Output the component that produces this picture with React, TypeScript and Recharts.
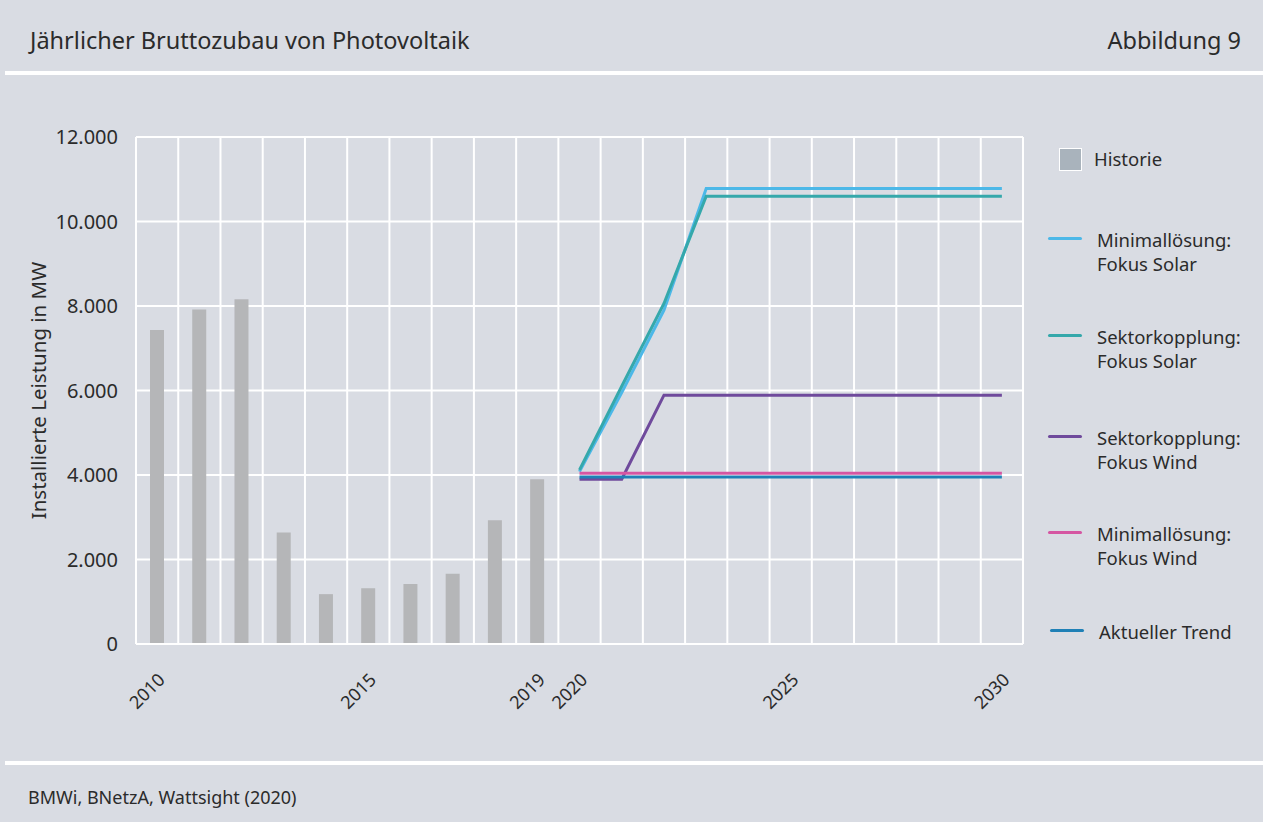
import React from 'react';
import { ComposedChart, Bar, Line, XAxis, YAxis, CartesianGrid } from 'recharts';

const years = [2010, 2011, 2012, 2013, 2014, 2015, 2016, 2017, 2018, 2019, 2020, 2021, 2022, 2023, 2024, 2025, 2026, 2027, 2028, 2029, 2030];
const historie = [7430, 7920, 8160, 2640, 1180, 1320, 1420, 1660, 2930, 3900, null, null, null, null, null, null, null, null, null, null, null];
const minSolar = [null, null, null, null, null, null, null, null, null, null, 4080, 5950, 7900, 10780, 10780, 10780, 10780, 10780, 10780, 10780, 10780];
const sekSolar = [null, null, null, null, null, null, null, null, null, null, 4120, 6100, 8060, 10600, 10600, 10600, 10600, 10600, 10600, 10600, 10600];
const sekWind = [null, null, null, null, null, null, null, null, null, null, 3900, 3900, 5890, 5890, 5890, 5890, 5890, 5890, 5890, 5890, 5890];
const minWind = [null, null, null, null, null, null, null, null, null, null, 4040, 4040, 4040, 4040, 4040, 4040, 4040, 4040, 4040, 4040, 4040];
const trend = [null, null, null, null, null, null, null, null, null, null, 3950, 3950, 3950, 3950, 3950, 3950, 3950, 3950, 3950, 3950, 3950];

const yTicks = [0, 2000, 4000, 6000, 8000, 10000, 12000];
const labeledYears = [2010, 2015, 2019, 2020, 2025, 2030];

const data = years.map((y, i) => ({
  year: y,
  historie: historie[i],
  minSolar: minSolar[i],
  sekSolar: sekSolar[i],
  sekWind: sekWind[i],
  minWind: minWind[i],
  trend: trend[i],
}));

const BG = '#d9dce3';
const TEXT = '#2b2b2b';
const FONT = '"Noto Sans", sans-serif';

const lineSeries = [
  { key: 'minSolar', label: ['Minimallösung:', 'Fokus Solar'], color: '#4cb8e8' },
  { key: 'sekSolar', label: ['Sektorkopplung:', 'Fokus Solar'], color: '#35a8ab' },
  { key: 'sekWind', label: ['Sektorkopplung:', 'Fokus Wind'], color: '#6f4a9c' },
  { key: 'minWind', label: ['Minimallösung:', 'Fokus Wind'], color: '#d556a2' },
  { key: 'trend', label: ['Aktueller Trend'], color: '#1f80b6' },
];

const legendY = [238, 335, 436, 532, 630];
const legendDx = [0, 0, 0, 0, 2];

const fmt = (v: number) => v.toLocaleString('de-DE');

const XTick = (props: any) => {
  const { x, y, payload } = props;
  if (!labeledYears.includes(payload.value)) return null;
  return (
    <text
      transform={`translate(${x + 9},${y + 37}) rotate(-45)`}
      textAnchor="end"
      fill={TEXT}
      fontSize={18}
      fontFamily={FONT}
    >
      {payload.value}
    </text>
  );
};

const YLabel = (props: any) => {
  const vb = props.viewBox || {};
  const cy = vb.y + vb.height / 2;
  return (
    <text
      transform={`translate(38,${cy}) rotate(-90)`}
      textAnchor="middle"
      dominantBaseline="central"
      fill={TEXT}
      fontSize={20.5}
      fontFamily={FONT}
    >
      Installierte Leistung in MW
    </text>
  );
};

export default function App() {
  return (
    <div style={{ position: 'absolute', left: 0, top: 0, width: 1263, height: 822, background: BG, fontFamily: FONT, color: TEXT, overflow: 'hidden' }}>
      <div style={{ position: 'absolute', left: 5, top: 71, width: 1258, height: 4, background: '#ffffff' }} />
      <div style={{ position: 'absolute', left: 5, top: 761, width: 1258, height: 4, background: '#ffffff' }} />
      <div style={{ position: 'absolute', left: 30, top: 25, fontSize: 23.5, lineHeight: '30px', whiteSpace: 'nowrap' }}>
        Jährlicher Bruttozubau von Photovoltaik
      </div>
      <div style={{ position: 'absolute', right: 22, top: 25, fontSize: 23.5, lineHeight: '30px', whiteSpace: 'nowrap' }}>
        Abbildung 9
      </div>
      <div style={{ position: 'absolute', left: 28, top: 784, fontSize: 18, lineHeight: '26px', whiteSpace: 'nowrap' }}>
        BMWi, BNetzA, Wattsight (2020)
      </div>

      <div style={{ position: 'absolute', left: 0, top: 0 }}>
        <ComposedChart
          width={1263}
          height={822}
          data={data}
          margin={{ top: 137, right: 240, bottom: 148, left: 56 }}
          barCategoryGap={0}
        >
          <CartesianGrid
            stroke="#ffffff"
            strokeWidth={2}
            verticalCoordinatesGenerator={({ offset }: any) =>
              Array.from({ length: years.length + 1 }, (_, i) => offset.left + (i * offset.width) / years.length)
            }
          />
          <XAxis
            dataKey="year"
            interval={0}
            height={30}
            axisLine={{ stroke: '#ffffff', strokeWidth: 2 }}
            tickLine={false}
            tickSize={0}
            tickMargin={0}
            tick={<XTick />}
          />
          <YAxis
            width={80}
            domain={[0, 12000]}
            ticks={yTicks}
            axisLine={false}
            tickLine={false}
            tickSize={0}
            tickMargin={18}
            tickFormatter={fmt}
            tick={{ fill: TEXT, fontSize: 20, fontFamily: FONT }}
            label={<YLabel />}
          />
          <Bar dataKey="historie" fill="#b5b6b8" barSize={14} isAnimationActive={false} />
          {lineSeries.map((s) => (
            <Line
              key={s.key}
              type="linear"
              dataKey={s.key}
              stroke={s.color}
              strokeWidth={3}
              dot={false}
              activeDot={false}
              isAnimationActive={false}
            />
          ))}
        </ComposedChart>
      </div>

      {/* Legend */}
      <div style={{ position: 'absolute', left: 1059, top: 148, width: 21, height: 21, background: '#a9b3bc', border: '1px solid #ffffff' }} />
      <div style={{ position: 'absolute', left: 1094, top: 146, fontSize: 18.5, lineHeight: '26px' }}>Historie</div>
      {lineSeries.map((s, i) => (
        <React.Fragment key={s.key}>
          <div style={{ position: 'absolute', left: 1048 + legendDx[i], top: legendY[i] - 1.5, width: 34, height: 3, borderRadius: 2, background: s.color }} />
          <div style={{ position: 'absolute', left: 1097 + legendDx[i], top: legendY[i] - 10, fontSize: 18.5, lineHeight: '24px', whiteSpace: 'nowrap' }}>
            {s.label.map((l, j) => (
              <div key={j}>{l}</div>
            ))}
          </div>
        </React.Fragment>
      ))}
    </div>
  );
}
